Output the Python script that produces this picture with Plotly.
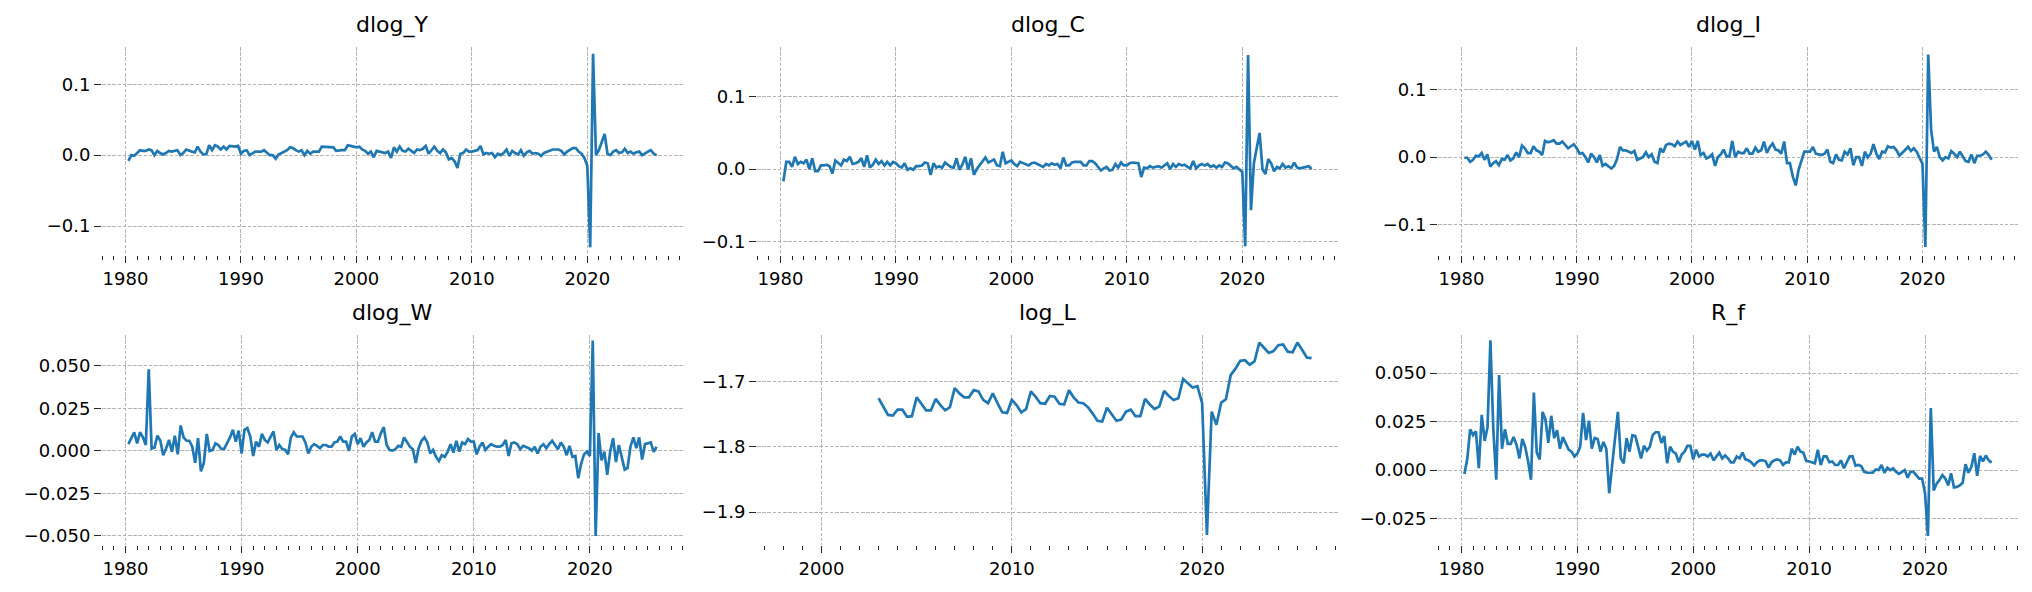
import pandas as pd
import plotly.graph_objects as go

# ---------------- data (quarterly) ----------------
ROW1_START = "1980-04-01"   # dlog_Y, dlog_C, dlog_I : 1980Q2 .. 2026Q1
ROW2_START = "1980-04-01"   # dlog_W, R_f          : 1980Q2 .. 2025Q4
LOGL_START = "2003-01-01"   # log_L                : 2003Q1 .. 2025Q4
LOGL_AXIS_FROM = "1998-01-01"  # log_L index begins (NaN) here

DLOG_Y = [
    -0.008, 0.000, -0.001,
    0.003, 0.007, 0.006, 0.006,
    0.008, 0.007, 0.000, 0.006,
    0.003, 0.001, 0.003, 0.006,
    0.005, 0.006, 0.007, 0.000,
    0.003, 0.008, 0.006, 0.005,
    0.004, 0.012, 0.005, 0.001,
    0.0015, 0.014, 0.007, 0.014,
    0.012, 0.008, 0.012, 0.008,
    0.013, 0.012, 0.012, 0.013,
    0.002, 0.006, 0.007, 0.000,
    0.003, 0.005, 0.005, 0.005,
    0.007, 0.004, 0.000, 0.000,
    -0.005, 0.001, 0.003, 0.005,
    0.007, 0.011, 0.010, 0.007,
    0.005, 0.007, 0.000, 0.006,
    0.002, 0.005, 0.005, 0.005,
    0.012, 0.012, 0.011, 0.011,
    0.011, 0.006, 0.007, 0.007,
    0.007, 0.014, 0.013, 0.012,
    0.011, 0.012, 0.008, 0.006,
    0.002, 0.005, -0.003, 0.006,
    0.005, 0.004, 0.003, 0.005,
    -0.004, 0.011, 0.005, 0.012,
    0.006, 0.005, 0.009, 0.006,
    0.003, 0.008, 0.007, 0.009,
    0.013, 0.002, 0.007, 0.012,
    0.006, 0.003, 0.008, 0.004,
    -0.006, -0.004, -0.0085, -0.018,
    0.002, 0.003, 0.008, 0.005,
    0.005, 0.006, 0.007, 0.013,
    0.001, 0.003, 0.002, 0.003,
    -0.003, 0.002, 0.000, 0.003,
    0.008, -0.001, 0.006, 0.003,
    0.001, 0.007, -0.001, 0.004,
    0.006, 0.002, 0.003, 0.002,
    -0.001, 0.003, 0.005, 0.006,
    0.008, 0.008, 0.008, 0.006,
    0.001, 0.005, 0.007, 0.010,
    0.010, 0.005, 0.002, -0.004,
    -0.015, -0.130, 0.143, 0.000,
    0.007, 0.018, 0.030, 0.002,
    0.000, 0.005, 0.007, 0.003,
    0.004, 0.009, 0.003, 0.005,
    0.002, 0.004, 0.005, 0.000,
    0.003, 0.005, 0.007, 0.002,
    0.000,
]

DLOG_C = [
    -0.017, 0.010, 0.010,
    0.003, 0.017, 0.007, 0.010,
    0.008, 0.013, 0.000, 0.015,
    -0.003, -0.003, 0.005, 0.005,
    0.006, 0.004, -0.006, 0.012,
    0.008, 0.005, 0.013, 0.011,
    0.017, 0.007, 0.008, 0.010,
    0.015, 0.003, 0.019, 0.002,
    0.006, 0.013, 0.007, 0.011,
    0.005, 0.010, 0.005, 0.010,
    0.008, 0.004, 0.002, 0.008,
    -0.001, 0.001, -0.001, 0.004,
    0.004, 0.005, 0.009, 0.008,
    -0.008, 0.008, 0.002, 0.004,
    0.002, 0.009, 0.006, 0.003,
    0.002, 0.015, -0.001, 0.006,
    0.017, -0.001, 0.015, -0.008,
    0.000, 0.005, 0.010, 0.016,
    0.009, 0.011, 0.013, 0.005,
    0.004, 0.024, 0.008, 0.010,
    0.012, 0.007, 0.004, 0.010,
    0.008, 0.007, 0.005, 0.008,
    0.009, 0.007, 0.005, 0.003,
    0.007, 0.005, 0.008, 0.006,
    0.007, 0.001, 0.016, 0.005,
    0.005, 0.009, 0.010, 0.010,
    0.010, 0.005, 0.005, 0.011,
    0.011, 0.008, 0.003, -0.002,
    0.001, 0.003, -0.002, -0.001,
    0.007, 0.002, 0.009, 0.005,
    0.005, 0.008, 0.009, 0.008,
    0.008, -0.011, 0.002, 0.001,
    0.004, 0.002, 0.003, 0.004,
    0.002, 0.005, 0.008, 0.000,
    0.007, 0.003, 0.007, 0.005,
    0.006, 0.003, 0.001, 0.011,
    0.001, 0.005, 0.007, 0.005,
    0.007, 0.003, 0.005, 0.002,
    0.005, 0.003, 0.009, 0.008,
    0.004, 0.001, 0.003, 0.000,
    -0.004, -0.107, 0.158, -0.057,
    0.008, 0.029, 0.050, -0.0005,
    -0.007, 0.014, 0.008, -0.003,
    0.003, 0.001, 0.007, 0.002,
    0.004, 0.002, 0.009, 0.002,
    0.001, 0.002, 0.003, 0.004,
    0.000,
]

DLOG_I = [
    -0.001, -0.001, -0.007,
    -0.004, 0.002, 0.001, 0.006,
    -0.004, 0.004, -0.014, -0.009,
    -0.006, -0.012, -0.003, -0.004,
    0.003, -0.005, -0.002, 0.007,
    0.000, 0.017, 0.013, 0.006,
    0.006, 0.016, 0.010, 0.008,
    0.003, 0.024, 0.022, 0.023,
    0.025, 0.020, 0.020, 0.023,
    0.018, 0.013, 0.016, 0.019,
    0.013, 0.005, 0.006, 0.000,
    -0.008, 0.005, 0.000, -0.008,
    0.003, -0.013, -0.010, -0.014,
    -0.017, -0.013, -0.003, 0.015,
    0.010, 0.010, 0.008, 0.006,
    0.009, -0.004, -0.002, 0.000,
    0.007, 0.000, 0.004, -0.007,
    -0.009, 0.013, 0.007, 0.018,
    0.020, 0.019, 0.016, 0.023,
    0.018, 0.020, 0.023, 0.015,
    0.024, 0.011, 0.024, 0.003,
    0.006, -0.002, 0.000, 0.004,
    -0.013, 0.000, 0.004, 0.011,
    0.001, 0.001, 0.024, 0.000,
    0.008, 0.006, 0.006, 0.013,
    0.005, 0.005, 0.014, 0.008,
    0.010, 0.023, 0.006, 0.015,
    0.020, 0.011, 0.010, 0.005,
    0.023, -0.009, -0.009, -0.029,
    -0.042, -0.019, -0.005, 0.008,
    0.008, 0.008, 0.015, 0.005,
    0.004, 0.003, 0.005, 0.011,
    -0.007, -0.009, 0.004, -0.004,
    -0.005, 0.008, 0.004, 0.013,
    -0.012, 0.000, 0.000, -0.013,
    0.008, -0.0005, 0.005, 0.019,
    0.005, -0.003, 0.008, 0.007,
    0.016, 0.014, 0.015, 0.010,
    0.002, 0.006, 0.010, 0.015,
    0.009, 0.013, 0.008, -0.0005,
    -0.010, -0.133, 0.152, 0.040,
    0.008, 0.015, 0.000, -0.005,
    0.000, -0.002, 0.009, 0.005,
    0.000, 0.008, 0.000, -0.006,
    -0.007, 0.004, -0.009, 0.002,
    0.002, 0.004, 0.008, 0.003,
    -0.004,
]

DLOG_W = [
    0.004, 0.008, 0.011,
    0.0045, 0.011, 0.008, 0.0035,
    0.048, 0.0015, 0.002, 0.009,
    0.006, -0.0025, 0.0015, 0.0065,
    -0.0005, 0.009, -0.002, 0.015,
    0.008, 0.006, 0.006, 0.0025,
    -0.007, 0.0075, -0.012, -0.007,
    0.010, 0.000, 0.0005, 0.0045,
    0.0035, 0.0012, 0.0012, 0.0045,
    0.008, 0.0125, 0.0055, 0.012,
    -0.0015, 0.0125, 0.0135, 0.0085,
    -0.003, 0.0055, 0.0025, 0.010,
    0.0065, 0.005, 0.008, 0.0115,
    0.0005, 0.0035, 0.0012, 0.0006,
    -0.002, 0.008, 0.011, 0.0085,
    0.0085, 0.0085, 0.005, -0.0015,
    0.0025, 0.004, 0.003, 0.0016,
    0.0035, 0.0035, 0.0025, 0.0025,
    0.005, 0.0055, 0.0085, 0.0055,
    0.0055, 0.000, 0.0085, 0.010,
    0.004, 0.0075, 0.0025, 0.005,
    0.0065, 0.011, 0.0055, 0.0055,
    0.0105, 0.014, 0.0035, 0.0006,
    0.0002, 0.001, 0.003, 0.0025,
    0.008, 0.005, 0.0025, 0.001,
    -0.007, 0.0015, 0.006, 0.008,
    0.005, -0.0015, 0.0006, -0.0035,
    -0.006, -0.0025, -0.0035, -0.0005,
    0.004, -0.001, 0.006, -0.0004,
    0.005, 0.004, 0.007, 0.0055,
    0.0055, -0.002, 0.0025, 0.005,
    0.0006, 0.0025, 0.004, 0.003,
    0.0025, 0.0025, 0.0035, 0.0065,
    -0.003, 0.0045, 0.005, 0.004,
    0.001, 0.003, 0.0025, 0.0016,
    0.0002, 0.0025, -0.0015, 0.0025,
    0.004, 0.0016, 0.004, 0.006,
    0.0035, 0.001, 0.005, 0.0025,
    -0.0025, 0.003, -0.0035, -0.003,
    -0.016, -0.0075, -0.002, -0.0004,
    -0.003, 0.065, -0.050, 0.0105,
    -0.0055, -0.0004, -0.014, -0.0004,
    0.0075, -0.0065, 0.0035, -0.0035,
    -0.011, -0.010, 0.0025, 0.008,
    0.0016, 0.008, -0.005, 0.004,
    0.0045, 0.005, -0.0005, 0.0025,
]

LOG_L = [
    -1.7255, -1.738, -1.751, -1.752,
    -1.743, -1.743, -1.754, -1.753,
    -1.724, -1.734, -1.744, -1.744,
    -1.7265, -1.736, -1.744, -1.739,
    -1.710, -1.718, -1.724, -1.724,
    -1.713, -1.715, -1.728, -1.733,
    -1.718, -1.733, -1.747, -1.748,
    -1.728, -1.736, -1.747, -1.742,
    -1.715, -1.723, -1.733, -1.734,
    -1.722, -1.723, -1.734, -1.735,
    -1.713, -1.724, -1.732, -1.733,
    -1.739, -1.749, -1.760, -1.761,
    -1.740, -1.750, -1.760, -1.758,
    -1.746, -1.743, -1.753, -1.753,
    -1.7265, -1.735, -1.742, -1.738,
    -1.714, -1.722, -1.728, -1.7255,
    -1.696, -1.7025, -1.709, -1.707,
    -1.733, -1.935, -1.746, -1.766,
    -1.732, -1.727, -1.690, -1.680,
    -1.668, -1.667, -1.674, -1.669,
    -1.640, -1.648, -1.656, -1.653,
    -1.644, -1.643, -1.654, -1.655,
    -1.640, -1.651, -1.663, -1.664,
]

R_F = [
    -0.002, 0.0055, 0.021,
    0.018, 0.020, 0.001, 0.0285,
    0.015, 0.022, 0.067, 0.021,
    -0.005, 0.049, 0.011, 0.021,
    0.0135, 0.0135, 0.017, 0.013,
    0.006, 0.016, 0.012, 0.0045,
    -0.005, 0.040, 0.009, 0.0055,
    0.030, 0.026, 0.014, 0.028,
    0.0165, 0.0205, 0.011, 0.017,
    0.0135, 0.0105, 0.0095, 0.007,
    0.0085, 0.012, 0.0295, 0.0155,
    0.0255, 0.011, 0.0165, 0.016,
    0.0095, 0.0145, 0.011, -0.012,
    0.0025, 0.0155, 0.030, 0.006,
    0.0035, 0.0165, 0.0095, 0.018,
    0.0175, 0.012, 0.006, 0.0125,
    0.010, 0.012, 0.018, 0.0195,
    0.0195, 0.014, 0.0175, 0.0035,
    0.012, 0.0095, 0.0085, 0.004,
    0.008, 0.0095, 0.0125, 0.0125,
    0.0055, 0.0105, 0.007, 0.008,
    0.008, 0.007, 0.0085, 0.005,
    0.007, 0.009, 0.006, 0.0075,
    0.006, 0.004, 0.004, 0.007,
    0.006, 0.009, 0.0055, 0.005,
    0.004, 0.0023, 0.004, 0.005,
    0.005, 0.0045, 0.0012, 0.004,
    0.005, 0.0055, 0.005, 0.0026,
    0.004, 0.004, 0.011, 0.008,
    0.012, 0.0095, 0.009, 0.0047,
    0.0044, 0.004, 0.0035, 0.0105,
    0.0026, 0.007, 0.007, 0.004,
    0.0044, 0.0026, 0.0026, 0.005,
    0.0009, 0.004, 0.007, 0.007,
    0.0023, 0.0026, 0.002, -0.0009,
    -0.0014, -0.0014, -0.0014, 0.0003,
    0.000, 0.0026, -0.0014, 0.0012,
    0.000, 0.0009, -0.0009, -0.002,
    -0.001, 0.000, -0.004, -0.0009,
    -0.0009, -0.0026, -0.0044, -0.0044,
    -0.012, -0.034, 0.032, -0.0105,
    -0.007, -0.0052, -0.0026, -0.0044,
    -0.0079, -0.0017, -0.009, -0.0087,
    -0.0079, -0.0066, 0.003, -0.0014,
    0.0017, 0.0087, -0.003, 0.0073,
    0.0044, 0.0075, 0.005, 0.0038,
]

TITLES = ["dlog_Y", "dlog_C", "dlog_I", "dlog_W", "log_L", "R_f"]
X_TICK_YEARS = [1980, 1990, 2000, 2010, 2020]

Y_TICKS = {
    "dlog_Y": [-0.1, 0.0, 0.1],
    "dlog_C": [-0.1, 0.0, 0.1],
    "dlog_I": [-0.1, 0.0, 0.1],
    "dlog_W": [-0.05, -0.025, 0.0, 0.025, 0.05],
    "log_L": [-1.9, -1.8, -1.7],
    "R_f": [-0.025, 0.0, 0.025, 0.05],
}
Y_TICK_LABELS = {
    "dlog_Y": ["\u22120.1", "0.0", "0.1"],
    "dlog_C": ["\u22120.1", "0.0", "0.1"],
    "dlog_I": ["\u22120.1", "0.0", "0.1"],
    "dlog_W": ["\u22120.050", "\u22120.025", "0.000", "0.025", "0.050"],
    "log_L": ["\u22121.9", "\u22121.8", "\u22121.7"],
    "R_f": ["\u22120.025", "0.000", "0.025", "0.050"],
}
# visible value window of each panel
Y_LIMITS = {
    "dlog_Y": [-0.1408, 0.1525],
    "dlog_C": [-0.119, 0.169],
    "dlog_I": [-0.145, 0.163],
    "dlog_W": [-0.0553, 0.0682],
    "log_L": [-1.9506, -1.6284],
    "R_f": [-0.0387, 0.0697],
}

# ---------------- helpers ----------------
def quarters(start, n):
    return pd.date_range(start, periods=n, freq="QS")


def dec_year(ts):
    ts = pd.Timestamp(ts)
    start = pd.Timestamp(ts.year, 1, 1)
    end = pd.Timestamp(ts.year + 1, 1, 1)
    return ts.year + (ts - start) / (end - start)


def from_dec(y):
    yi = int(y // 1)
    start = pd.Timestamp(yi, 1, 1)
    end = pd.Timestamp(yi + 1, 1, 1)
    return (start + (y - yi) * (end - start)).strftime("%Y-%m-%d %H:%M:%S")


def x_range(x0, x1):
    a, b = dec_year(x0), dec_year(x1)
    m = 0.05 * (b - a)
    return a - m, b + m


series = {
    "dlog_Y": (quarters(ROW1_START, len(DLOG_Y)), DLOG_Y),
    "dlog_C": (quarters(ROW1_START, len(DLOG_C)), DLOG_C),
    "dlog_I": (quarters(ROW1_START, len(DLOG_I)), DLOG_I),
    "dlog_W": (quarters(ROW2_START, len(DLOG_W)), DLOG_W),
    "log_L": (quarters(LOGL_START, len(LOG_L)), LOG_L),
    "R_f": (quarters(ROW2_START, len(R_F)), R_F),
}

# ---------------- layout geometry (pixels of the 2032x592 canvas) ----------------
W, H = 2032, 592
COLS = [(102, 683), (757, 1338), (1438, 2018)]
ROWS = [(47, 255), (335, 545)]

LINE_COLOR = "#1f77b4"
GRID_COLOR = "#b4b4b4"
TICK_COLOR = "#262626"
FONT = "DejaVu Sans"

fig = go.Figure()
layout = dict(
    width=W, height=H,
    margin=dict(l=0, r=0, t=0, b=0),
    paper_bgcolor="white", plot_bgcolor="white",
    showlegend=False,
    font=dict(family=FONT, size=18, color="black"),
    annotations=[],
)

for i, name in enumerate(TITLES):
    r, c = divmod(i, 3)
    k = i + 1
    xs, ys = series[name]
    fig.add_trace(go.Scatter(
        x=xs, y=ys, mode="lines",
        line=dict(color=LINE_COLOR, width=2.7),
        xaxis=f"x{k}", yaxis=f"y{k}", hoverinfo="skip",
    ))

    x0px, x1px = COLS[c]
    y0px, y1px = ROWS[r]
    xdom = [x0px / W, x1px / W]
    ydom = [1 - y1px / H, 1 - y0px / H]

    if name == "log_L":
        ra, rb = x_range(LOGL_AXIS_FROM, xs[-1])
    else:
        ra, rb = x_range(xs[0], xs[-1])
    minor_years = [f"{y}-01-01" for y in range(int(ra) + 1, int(rb) + 1)]
    major = [y for y in X_TICK_YEARS if ra <= y <= rb]

    layout[f"xaxis{k}"] = dict(
        domain=xdom, anchor=f"y{k}", type="date",
        range=[from_dec(ra), from_dec(rb)],
        tickmode="array",
        tickvals=[f"{y}-01-01" for y in major],
        ticktext=[str(y) for y in major],
        ticks="outside", ticklen=7, tickwidth=1.4, tickcolor=TICK_COLOR,
        showgrid=True, gridcolor=GRID_COLOR, gridwidth=0.9, griddash="3.5px,1.7px",
        minor=dict(tickmode="array", tickvals=minor_years, ticks="outside",
                   ticklen=4, tickwidth=1.1, tickcolor=TICK_COLOR, showgrid=False),
        showline=False, zeroline=False,
        tickfont=dict(family=FONT, size=18, color="black"),
        fixedrange=True,
    )
    layout[f"yaxis{k}"] = dict(
        domain=ydom, anchor=f"x{k}",
        range=Y_LIMITS[name],
        tickmode="array",
        tickvals=Y_TICKS[name], ticktext=Y_TICK_LABELS[name],
        ticks="outside", ticklen=7, tickwidth=1.4, tickcolor=TICK_COLOR,
        showgrid=True, gridcolor=GRID_COLOR, gridwidth=0.9, griddash="3.5px,1.7px",
        showline=False, zeroline=False,
        tickfont=dict(family=FONT, size=18, color="black"),
        fixedrange=True,
    )
    layout["annotations"].append(dict(
        text=name, xref="paper", yref="paper",
        x=(xdom[0] + xdom[1]) / 2, y=ydom[1],
        xanchor="center", yanchor="bottom", yshift=7,
        showarrow=False, font=dict(family=FONT, size=22, color="black"),
    ))

fig.update_layout(**layout)
fig.write_html("out.html")
